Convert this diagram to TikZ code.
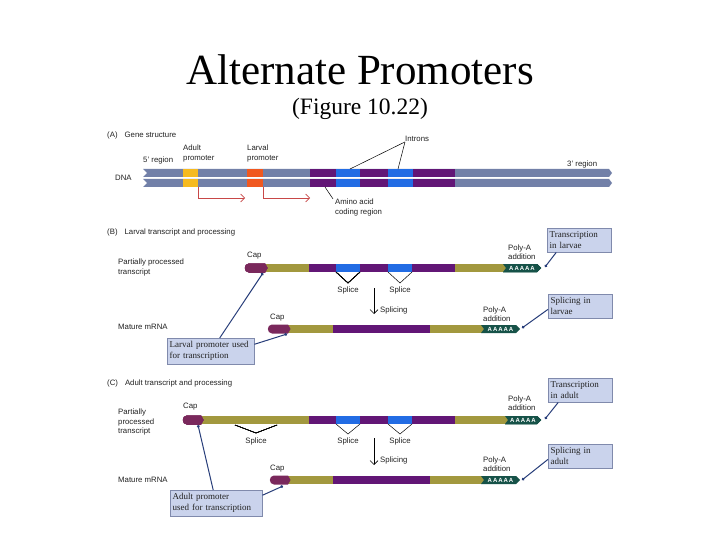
\documentclass[tikz,border=0pt]{standalone}
\usepackage{fontspec}
\setmainfont{Liberation Serif}
\setsansfont{Liberation Sans}
\usetikzlibrary{arrows.meta,positioning}

\definecolor{dnagray}{RGB}{114,128,168}
\definecolor{adultyel}{RGB}{246,186,32}
\definecolor{larvorg}{RGB}{240,88,32}
\definecolor{exonpur}{RGB}{98,22,118}
\definecolor{intblue}{RGB}{34,108,228}
\definecolor{utrolive}{RGB}{162,152,62}
\definecolor{capplum}{RGB}{122,40,92}
\definecolor{polyteal}{RGB}{22,82,72}
\definecolor{boxfill}{RGB}{202,211,236}
\definecolor{boxedge}{RGB}{128,138,172}
\definecolor{leadnavy}{RGB}{40,62,122}
\definecolor{startred}{RGB}{200,72,72}
\definecolor{lbltext}{RGB}{34,34,34}

\tikzset{
  lbl/.style={font=\sffamily\fontsize{7.8}{9.5}\selectfont,text=lbltext,inner sep=0pt,align=left,anchor=west},
  callout/.style={draw=boxedge,fill=boxfill,font=\rmfamily\fontsize{9}{11}\selectfont,text=lbltext,
    align=left,inner xsep=2.5pt,inner ysep=3.5pt,anchor=north west},
  leader/.style={leadnavy,line width=1pt,-{Circle[length=2.8pt]}},
  tick/.style={black,line width=0.5pt},
  polytext/.style={font=\sffamily\bfseries\fontsize{6}{6}\selectfont,text=white,inner sep=0pt},
}

% band of a transcript: colour, left x, right x, centre y
\newcommand{\band}[4]{\fill[#1] (#2,#4-4) rectangle (#3,#4+4);}
% 5' cap: left x, right x, centre y
\newcommand{\capend}[3]{%
  \fill[capplum] (#2,#3-4.5) -- ({#1+4},#3-4.5) .. controls ({#1-1.5},#3-4.5) and ({#1-1.5},#3+4.5) .. ({#1+4},#3+4.5)
    -- (#2,#3+4.5) -- ({#2+2.5},#3) -- cycle;}
% poly-A tail: node name, left x, right x, centre y
\newcommand{\polytail}[4]{%
  \fill[polyteal] (#2,#4-4) -- ({#3-4},#4-4) -- (#3,#4) -- ({#3-4},#4+4) -- (#2,#4+4) -- ({#2+3},#4) -- cycle;
  \node[polytext] (#1) at ({(#2+#3)/2},#4) {A\,A\,A\,A\,A};}

\begin{document}
\begin{tikzpicture}[x=1pt,y=-1pt]
  \useasboundingbox (0,0) rectangle (720,540);
  \fill[white] (0,0) rectangle (720,540);

  \node[font=\rmfamily\fontsize{43}{48}\selectfont,anchor=base] (title) at (360,85) {Alternate Promoters};
  \node[font=\rmfamily\fontsize{23.5}{26}\selectfont,anchor=base] (figref) at (360,115) {(Figure 10.22)};

  % (A) gene structure
  \begin{scope}
    \node[lbl] (lblA) at (107,135) {(A)\hspace{7pt}Gene structure};
    \foreach \yy in {173,183} {
      \fill[dnagray] (143,\yy-4) -- (609,\yy-4) -- (612,\yy) -- (609,\yy+4) -- (143,\yy+4) -- (147,\yy) -- cycle;
      \foreach \c/\a/\b in {adultyel/183/198, larvorg/247/263, exonpur/310/336, intblue/336/360,
                            exonpur/360/388, intblue/388/413, exonpur/413/455}
        \fill[\c] (\a,\yy-4) rectangle (\b,\yy+4);
    }
    \node[lbl] (fivep) at (143,160) {5' region};
    \node[lbl] (adultlbl) at (183,153.5) {Adult\\promoter};
    \node[lbl] (larvlbl) at (247,153.5) {Larval\\promoter};
    \node[lbl] (introns) at (405,139) {Introns};
    \node[lbl] (threep) at (567,164) {3' region};
    \node[lbl] (dna) at (115,178) {DNA};
    \node[lbl] (amino) at (335,207.5) {Amino acid\\coding region};

    \coordinate (intA) at (350,169);
    \coordinate (intB) at (398,169);
    \coordinate (exonA) at (325,187);
    \draw[tick] (introns.south west) -- (intA);
    \draw[tick] (introns.south west) -- (intB);
    \draw[tick] (exonA) -- ([xshift=-2pt]amino.north west);

    \coordinate (adultstart) at (198,187);
    \coordinate (adultend) at (245,198);
    \coordinate (larvstart) at (263,187);
    \coordinate (larvend) at (310,198);
    \draw[startred,semithick,-{Straight Barb[length=4pt]}] (adultstart) |- (adultend);
    \draw[startred,semithick,-{Straight Barb[length=4pt]}] (larvstart) |- (larvend);
  \end{scope}

  % (B) larval transcript
  \begin{scope}
    \node[lbl] (lblB) at (107,232) {(B)\hspace{7pt}Larval transcript and processing};
    \node[lbl] (partB) at (118,267.5) {Partially processed\\transcript};
    \node[lbl] (matB) at (118,327) {Mature mRNA};

    \band{utrolive}{262}{309}{268}
    \foreach \c/\a/\b in {exonpur/309/336, intblue/336/360, exonpur/360/388, intblue/388/412, exonpur/412/455}
      \band{\c}{\a}{\b}{268}
    \band{utrolive}{455}{507}{268}
    \capend{245}{265}{268}
    \polytail{polyB}{503}{541}{268}
    \draw[tick] (336,272) -- (348,283) -- (360,272);
    \draw[tick] (388,272) -- (400,283) -- (412,272);
    \node[lbl,anchor=center] (spB1) at (348,290) {Splice};
    \node[lbl,anchor=center] (spB2) at (400,290) {Splice};
    \node[lbl] (capB1) at (247,256) {Cap};
    \node[lbl] (polyaB1) at (508,252) {Poly-A\\addition};

    \coordinate (splBtop) at (374,288);
    \coordinate (splBbot) at (374,314);
    \draw[black,semithick,-{Straight Barb[length=4pt]}] (splBtop) -- (splBbot);
    \node[lbl] (splB) at (380,310) {Splicing};

    \band{utrolive}{287}{333}{329}
    \band{exonpur}{333}{430}{329}
    \band{utrolive}{430}{484}{329}
    \capend{268}{288}{329}
    \polytail{polyBm}{481}{520}{329}
    \node[lbl] (capB2) at (270,318) {Cap};
    \node[lbl] (polyaB2) at (483,314) {Poly-A\\addition};

    \node[callout,text width=82pt] (larvbox) at (167,338) {Larval promoter used\\for transcription};
    \node[callout,text width=59pt] (tlarvbox) at (547,228) {Transcription\\in larvae};
    \node[callout,text width=59pt] (slarvbox) at (548,294) {Splicing in\\larvae};

    \coordinate (capdotB1) at (263,273);
    \coordinate (capdotB2) at (287,334);
    \coordinate (taildotB1) at (545,267);
    \coordinate (taildotB2) at (522,328);
    \draw[leader] ([xshift=9pt]larvbox.north) -- (capdotB1);
    \draw[leader] ([yshift=7pt]larvbox.east) -- (capdotB2);
    \draw[leader] ([xshift=-23pt]tlarvbox.south) -- (taildotB1);
    \draw[leader] ([yshift=-3pt]slarvbox.west) -- (taildotB2);
  \end{scope}

  % (C) adult transcript
  \begin{scope}
    \node[lbl] (lblC) at (107,383) {(C)\hspace{7pt}Adult transcript and processing};
    \node[lbl] (partC) at (118,422) {Partially\\processed\\transcript};
    \node[lbl] (matC) at (118,480) {Mature mRNA};

    \band{utrolive}{200}{309}{420}
    \foreach \c/\a/\b in {exonpur/309/336, intblue/336/360, exonpur/360/388, intblue/388/412, exonpur/412/455}
      \band{\c}{\a}{\b}{420}
    \band{utrolive}{455}{508}{420}
    \capend{183}{201}{420}
    \polytail{polyC}{505}{541}{420}
    \draw[tick] (235,425) -- (256,433) -- (277,425);
    \draw[tick] (336,424) -- (348,434) -- (360,424);
    \draw[tick] (388,424) -- (400,434) -- (412,424);
    \node[lbl,anchor=center] (spC0) at (256,441) {Splice};
    \node[lbl,anchor=center] (spC1) at (348,441) {Splice};
    \node[lbl,anchor=center] (spC2) at (400,441) {Splice};
    \node[lbl] (capC1) at (183,407) {Cap};
    \node[lbl] (polyaC1) at (508,403) {Poly-A\\addition};

    \coordinate (splCtop) at (374,438);
    \coordinate (splCbot) at (374,465);
    \draw[black,semithick,-{Straight Barb[length=4pt]}] (splCtop) -- (splCbot);
    \node[lbl] (splC) at (380,460) {Splicing};

    \band{utrolive}{287}{333}{480}
    \band{exonpur}{333}{430}{480}
    \band{utrolive}{430}{484}{480}
    \capend{270}{288}{480}
    \polytail{polyCm}{481}{520}{480}
    \node[lbl] (capC2) at (270,469) {Cap};
    \node[lbl] (polyaC2) at (483,464) {Poly-A\\addition};

    \node[callout,text width=87pt] (adultbox) at (170,490) {Adult promoter\\used for transcription};
    \node[callout,text width=59pt] (tadultbox) at (548,378) {Transcription\\in adult};
    \node[callout,text width=59pt] (sadultbox) at (548,444) {Splicing in\\adult};

    \coordinate (capdotC1) at (198,425);
    \coordinate (capdotC2) at (283,486);
    \coordinate (taildotC1) at (545,419);
    \coordinate (taildotC2) at (522,480);
    \draw[leader] ([xshift=-3pt]adultbox.north) -- (capdotC1);
    \draw[leader] ([yshift=8pt]adultbox.east) -- (capdotC2);
    \draw[leader] ([xshift=-22pt]tadultbox.south) -- (taildotC1);
    \draw[leader] ([yshift=-3pt]sadultbox.west) -- (taildotC2);
  \end{scope}
\end{tikzpicture}
\end{document}
